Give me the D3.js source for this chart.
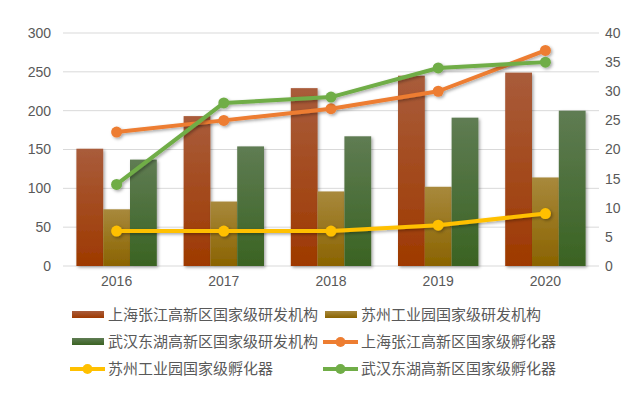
<!DOCTYPE html>
<html>
<head>
<meta charset="utf-8">
<script src="https://cdn.jsdelivr.net/npm/d3@7"></script>
<style>
body {margin:0;background:#fff;}
text {font-family:"Liberation Sans","Noto Sans CJK SC",sans-serif;fill:#595959;}
</style>
</head>
<body>
<svg id="chart" width="640" height="398"></svg>
<script>
// data
var years = ['2016','2017','2018','2019','2020'];
var shLabs = [151, 193, 229, 245, 249];
var szLabs = [73, 83, 96, 102, 114];
var whLabs = [137, 154, 167, 191, 200];
var shIncub = [23, 25, 27, 30, 37];
var szIncub = [6, 6, 6, 7, 9];
var whIncub = [14, 28, 29, 34, 35];
var leftTicks = [0, 50, 100, 150, 200, 250, 300];
var rightTicks = [0, 5, 10, 15, 20, 25, 30, 35, 40];

var bars = [
  {name:'上海张江高新区国家级研发机构', values:shLabs, top:'#a95c3b', bottom:'#9e3900'},
  {name:'苏州工业园国家级研发机构', values:szLabs, top:'#a8893c', bottom:'#8a6300'},
  {name:'武汉东湖高新区国家级研发机构', values:whLabs, top:'#5f7c53', bottom:'#3a6322'}
];
var lines = [
  {name:'上海张江高新区国家级孵化器', values:shIncub, color:'#ed7d31'},
  {name:'苏州工业园国家级孵化器', values:szIncub, color:'#ffc000'},
  {name:'武汉东湖高新区国家级孵化器', values:whIncub, color:'#70ad47'}
];

var svg = d3.select('#chart');
var plotL = 63, plotR = 599, plotT = 33, plotB = 266;

var x = d3.scaleBand().domain(years).range([plotL, plotR]);
var xi = d3.scaleBand().domain(d3.range(3)).range([0, x.bandwidth()]).paddingOuter(0.5);
var yL = d3.scaleLinear().domain([0, 300]).range([plotB, plotT]);
var yR = d3.scaleLinear().domain([0, 40]).range([plotB, plotT]);

var defs = svg.append('defs');
bars.forEach(function(b, i) {
  var g = defs.append('linearGradient').attr('id', 'grad' + i)
    .attr('x1', 0).attr('y1', 0).attr('x2', 0).attr('y2', 1);
  g.append('stop').attr('offset', '0%').attr('stop-color', b.top);
  g.append('stop').attr('offset', '100%').attr('stop-color', b.bottom);
});
var f = defs.append('filter').attr('id', 'shadow').attr('x', '-30%').attr('y', '-30%').attr('width', '160%').attr('height', '160%');
f.append('feDropShadow').attr('dx', 1.5).attr('dy', 1.5).attr('stdDeviation', 1.5)
  .attr('flood-color', '#000').attr('flood-opacity', 0.35);

// gridlines
svg.append('g').selectAll('line').data(leftTicks).enter().append('line')
  .attr('x1', plotL).attr('x2', plotR)
  .attr('y1', function(d) { return yL(d); }).attr('y2', function(d) { return yL(d); })
  .attr('stroke', '#d9d9d9').attr('stroke-width', 1);

// axes
var axL = svg.append('g').attr('transform', 'translate(' + (plotL - 8) + ',0)')
  .call(d3.axisLeft(yL).tickValues(leftTicks).tickSize(0).tickPadding(4));
var axR = svg.append('g').attr('transform', 'translate(' + (plotR + 4) + ',0)')
  .call(d3.axisRight(yR).tickValues(rightTicks).tickSize(0).tickPadding(2));
var axB = svg.append('g').attr('transform', 'translate(0,' + plotB + ')')
  .call(d3.axisBottom(x).tickSize(0).tickPadding(10));
[axL, axR, axB].forEach(function(a) {
  a.select('.domain').remove();
  a.selectAll('text').style('font-size', '14px').attr('fill', '#595959')
    .style('font-family', '"Liberation Sans",sans-serif');
});

// bars
bars.forEach(function(b, i) {
  svg.append('g').selectAll('rect').data(b.values).enter().append('rect')
    .attr('x', function(d, j) { return x(years[j]) + xi(i); })
    .attr('width', xi.bandwidth())
    .attr('y', function(d) { return yL(d); })
    .attr('height', function(d) { return plotB - yL(d); })
    .attr('fill', 'url(#grad' + i + ')')
    .attr('filter', 'url(#shadow)');
});

// lines
var cx = function(j) { return x(years[j]) + x.bandwidth() / 2; };
lines.forEach(function(l) {
  var g = svg.append('g').attr('filter', 'url(#shadow)');
  g.append('path').datum(l.values)
    .attr('d', d3.line().x(function(d, j) { return cx(j); }).y(function(d) { return yR(d); }))
    .attr('fill', 'none').attr('stroke', l.color).attr('stroke-width', 4).attr('stroke-linejoin', 'round');
  g.selectAll('circle').data(l.values).enter().append('circle')
    .attr('cx', function(d, j) { return cx(j); })
    .attr('cy', function(d) { return yR(d); })
    .attr('r', 5.5).attr('fill', l.color);
});

// legend
var legendItems = [
  {type:'bar', s:bars[0]}, {type:'bar', s:bars[1]},
  {type:'bar', s:bars[2]}, {type:'line', s:lines[0]},
  {type:'line', s:lines[1]}, {type:'line', s:lines[2]}
];
var lg = svg.append('g');
legendItems.forEach(function(it, k) {
  var gx = k % 2 === 0 ? 72 : 325;
  var gy = 315 + Math.floor(k / 2) * 27;
  var g = lg.append('g').attr('transform', 'translate(' + gx + ',' + gy + ')');
  if (it.type === 'bar') {
    g.append('rect').attr('x', 0).attr('y', -4).attr('width', 32).attr('height', 7)
      .attr('fill', 'url(#grad' + bars.indexOf(it.s) + ')');
  } else {
    g.append('line').attr('x1', -2).attr('x2', 33).attr('y1', 0).attr('y2', 0)
      .attr('stroke', it.s.color).attr('stroke-width', 4);
    g.append('circle').attr('cx', 15.5).attr('cy', 0).attr('r', 5).attr('fill', it.s.color);
  }
  g.append('text').attr('x', 36).attr('y', 0).attr('dy', '0.36em')
    .style('font-size', '15px').style('font-family', '"Noto Sans CJK SC",sans-serif')
    .text(it.s.name);
});
</script>
</body>
</html>
